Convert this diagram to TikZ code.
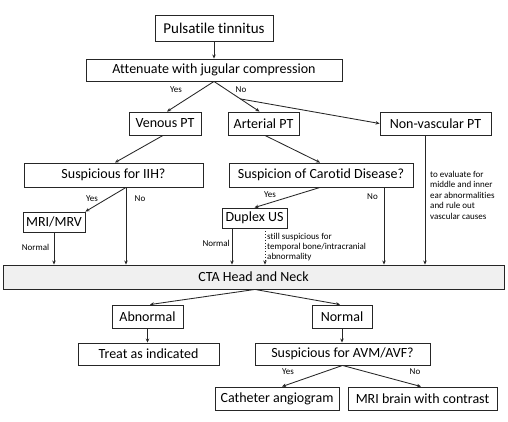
\documentclass[tikz,border=0pt]{standalone}
\usepackage{fontspec}
\setmainfont{Carlito}[Ligatures=NoCommon]
\usetikzlibrary{arrows.meta,calc}
\begin{document}
\begin{tikzpicture}[x=1pt,y=-1pt,
  box/.style={draw=black!85,line width=0.9pt,inner sep=0pt,font=\fontsize{14}{16}\selectfont},
  arr/.style={draw=black!85,line width=0.85pt,-{Stealth[length=4pt,width=3.5pt]}},
  lbl/.style={font=\fontsize{9}{10}\selectfont,inner sep=0pt},
  note/.style={font=\fontsize{9}{10.5}\selectfont,inner sep=0pt,align=left}]
\useasboundingbox (0,0) rectangle (508,422);
\fill[white] (0,0) rectangle (508,422);
% boxes
\node[box,minimum width=118,minimum height=26,font=\fontsize{15}{17}\selectfont] (pt) at (214,28) {Pulsatile tinnitus};
\node[box,minimum width=256,minimum height=22] (att) at (214,70) {Attenuate with jugular compression};
\node[box,minimum width=72,minimum height=23] (ven) at (165,123.5) {Venous PT};
\node[box,minimum width=71,minimum height=23] (art) at (263.5,123.5) {Arterial PT};
\node[box,minimum width=111,minimum height=23] (nonv) at (435.5,123.5) {Non-vascular PT};
\node[box,minimum width=179,minimum height=24] (iih) at (113.5,175) {Suspicious for IIH?};
\node[box,minimum width=184,minimum height=24] (car) at (321,175) {Suspicion of Carotid Disease?};
\node[box,minimum width=62,minimum height=20] (mri) at (54,222) {MRI/MRV};
\node[box,minimum width=65,minimum height=20] (dup) at (254.5,218) {Duplex US};
\node[box,fill=black!6,minimum width=501,minimum height=24] (cta) at (253.5,277) {CTA Head and Neck};
\node[box,minimum width=71,minimum height=23] (abn) at (147.5,316.5) {Abnormal};
\node[box,minimum width=60,minimum height=23] (nor) at (342,316.5) {Normal};
\node[box,minimum width=141,minimum height=22] (treat) at (148.5,354) {Treat as indicated};
\node[box,minimum width=175,minimum height=22] (avm) at (342.5,354) {Suspicious for AVM/AVF?};
\node[box,minimum width=124,minimum height=23] (cath) at (277,398.5) {Catheter angiogram};
\node[box,minimum width=149,minimum height=23] (mrib) at (422.5,398.5) {MRI brain with contrast};
% connectors
\draw[arr] (pt) -- (att);
\draw[arr] (att.south) -- ([xshift=2]ven.north);
\draw[arr] (att.south) -- coordinate[pos=0.58] (br) ([xshift=-4]art.north);
\draw[arr] (br) -- (nonv.west);
\node[lbl] (y1) at (176,90) {Yes};
\node[lbl] (n1) at (241,90) {No};
\draw[arr] ([xshift=-2]ven.south) -- ([xshift=1.5]iih.north);
\draw[arr] ([xshift=1.5]art.south) -- ([xshift=-1]car.north);
\coordinate (iihs) at ([xshift=12.5]iih.south);
\draw[arr] (iihs) -- (mri.north east);
\draw[arr] (iihs) -- (iihs |- cta.north);
\node[lbl] (y2) at (92,199) {Yes};
\node[lbl] (n2) at (140,199) {No};
\draw[arr] (mri.south) -- (mri.south |- cta.north);
\node[lbl] (nm1) at (35.5,247) {Normal};
\draw[arr] ([xshift=-1]car.south) -- (dup.north);
\node[lbl] (y3) at (270,195) {Yes};
\coordinate (cars) at ([xshift=63]car.south);
\draw[arr] (cars) -- (cars |- cta.north);
\node[lbl] (n3) at (372.5,197) {No};
\coordinate (nvs) at ([xshift=-10.5]nonv.south);
\draw[arr] (nvs) -- (nvs |- cta.north);
\node[note,anchor=north west] (nvt) at (430,171) {to evaluate for\\middle and inner\\ear abnormalities\\and rule out\\vascular causes};
\coordinate (dl) at ([xshift=-22.5]dup.south);
\coordinate (dr) at ([xshift=10.5]dup.south);
\draw[arr] (dl) -- (dl |- cta.north);
\draw[arr,dotted] (dr) -- (dr |- cta.north);
\node[lbl,anchor=east] (nm2) at (230,243) {Normal};
\node[note,anchor=north west,font=\fontsize{9}{9.8}\selectfont] (sst) at (267,233) {still suspicious for\\temporal bone/intracranial\\abnormality};
\draw[arr] ([xshift=1.5]cta.south) -- ([xshift=2.5]abn.north);
\draw[arr] ([xshift=1.5]cta.south) -- ([xshift=-2]nor.north);
\draw[arr] (abn.south) -- (abn.south |- treat.north);
\draw[arr] (nor.south) -- (nor.south |- avm.north);
\draw[arr] (avm.south) -- ([xshift=5]cath.north);
\draw[arr] (avm.south) -- ([xshift=-1.5]mrib.north);
\node[lbl] (y4) at (288,372) {Yes};
\node[lbl] (n4) at (415,372) {No};
\end{tikzpicture}
\end{document}
